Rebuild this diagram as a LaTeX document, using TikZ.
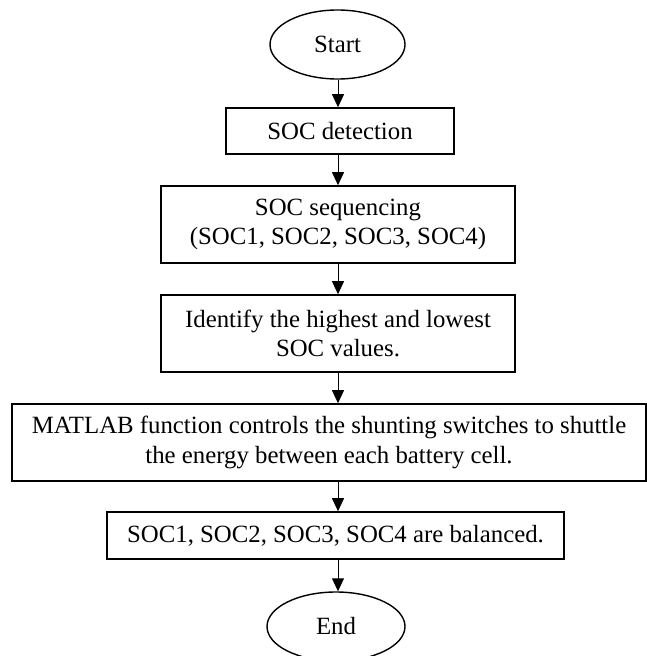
\documentclass[tikz,border=0pt]{standalone}
\usepackage{fontspec}
\setmainfont{Liberation Serif}
\usetikzlibrary{arrows.meta,shapes.geometric}
\begin{document}
\begin{tikzpicture}[x=1pt,y=-1pt,
  every node/.style={font=\fontsize{24.8}{29.5}\selectfont, inner sep=0pt, align=center},
  procbox/.style={draw, line width=1.6pt, rectangle},
  termnode/.style={draw, line width=1.4pt, ellipse, minimum width=135pt, minimum height=69pt},
  arr/.style={line width=0.9pt, -{Triangle[width=12pt,length=13pt]}}]
\useasboundingbox (0,0) rectangle (647,656);
\node[termnode] (start) at (337.5,44.5) {Start};
\node[procbox, minimum width=228pt, minimum height=46pt] (det) at (340,131) {SOC detection};
\node[procbox, minimum width=354pt, minimum height=77pt] (seq) at (338,224.5) {SOC sequencing\\(SOC1, SOC2, SOC3, SOC4)};
\node[procbox, minimum width=354pt, minimum height=77pt] (iden) at (338,333.5) {Identify the highest and lowest\\SOC values.};
\node[procbox, minimum width=634pt, minimum height=77pt] (mat) at (329,442.5) {MATLAB function controls the shunting switches to shuttle\\the energy between each battery cell.};
\node[procbox, minimum width=457pt, minimum height=47pt] (fin) at (335.5,535.5) {SOC1, SOC2, SOC3, SOC4 are balanced.};
\node[termnode, minimum width=138pt] (end) at (336,626.5) {End};
\coordinate (ax) at (338,0);
\draw[arr] (ax |- start.south) -- (ax |- det.north);
\draw[arr] (ax |- det.south) -- (ax |- seq.north);
\draw[arr] (ax |- seq.south) -- (ax |- iden.north);
\draw[arr] (ax |- iden.south) -- (ax |- mat.north);
\draw[arr] (ax |- mat.south) -- (ax |- fin.north);
\draw[arr] (ax |- fin.south) -- (ax |- end.north);
\end{tikzpicture}
\end{document}
